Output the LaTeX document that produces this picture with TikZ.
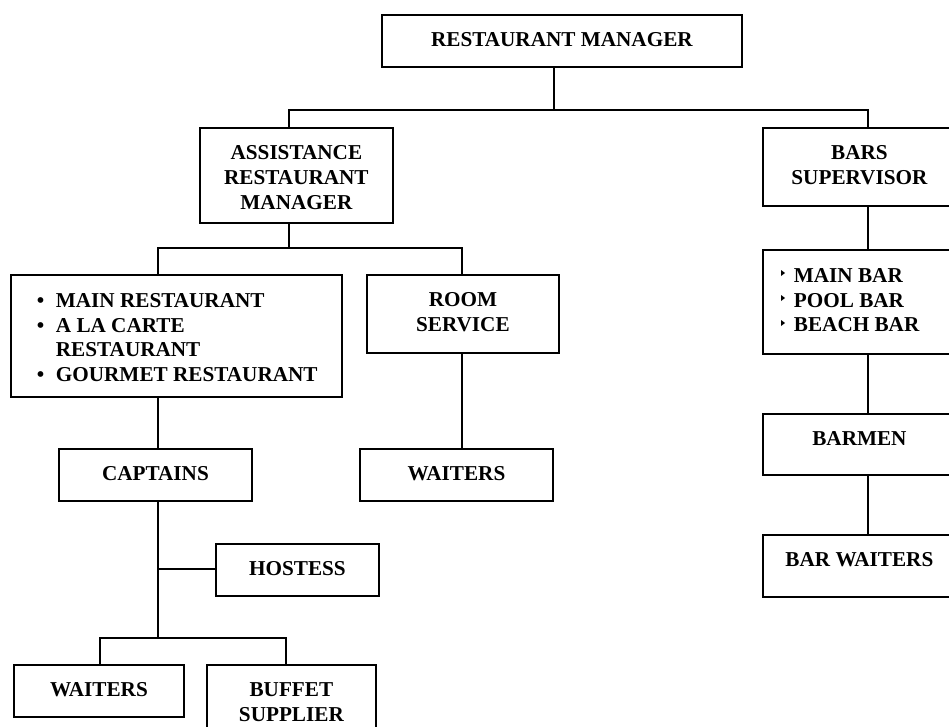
\documentclass[tikz,border=0pt]{standalone}
\usepackage{fontspec}
\setmainfont{Liberation Serif}
\usetikzlibrary{calc}
\newcommand{\bxt}[3]{\parbox[b][#2][t]{#1}{\centering\vspace*{18pt}#3\par}}
\newcommand{\bxl}[4]{\parbox[b][#2][t]{#1}{\raggedright\vspace*{#3}#4\par}}
\begin{document}
\begin{tikzpicture}[x=1pt,y=-1pt,
  orgbox/.style={draw, line width=1.8pt, inner sep=0pt, anchor=north west,
    font=\fontsize{21.2}{24.7}\selectfont\bfseries},
  link/.style={line width=1.8pt}]
\useasboundingbox (0,0) rectangle (949,726);
\clip (0,0) rectangle (949,726);
% boxes
\node[orgbox] (rm) at (381,14) {\bxt{360pt}{52pt}{RESTAURANT MANAGER}};
\node[orgbox] (arm) at (199,127) {\bxt{193pt}{95pt}{ASSISTANCE\\RESTAURANT\\MANAGER}};
\node[orgbox] (bs) at (762,127) {\bxt{193pt}{78pt}{BARS\\SUPERVISOR}};
\node[orgbox] (lst) at (10,274) {\bxl{331pt}{122pt}{18.5pt}{%
  \hspace*{26pt}\makebox[19pt][l]{\textbullet}MAIN RESTAURANT\\
  \hspace*{26pt}\makebox[19pt][l]{\textbullet}A LA CARTE\\
  \hspace*{45pt}RESTAURANT\\
  \hspace*{26pt}\makebox[19pt][l]{\textbullet}GOURMET RESTAURANT}};
\node[orgbox] (rs) at (366,274) {\bxt{192pt}{78pt}{ROOM\\SERVICE}};
\node[orgbox] (wtwo) at (359,448) {\bxt{193pt}{52pt}{WAITERS}};
\node[orgbox] (bl) at (762,249) {\bxl{193pt}{104pt}{18.5pt}{%
  \hspace*{31pt}MAIN BAR\\
  \hspace*{31pt}POOL BAR\\
  \hspace*{31pt}BEACH BAR}};
\node[orgbox] (bm) at (762,413) {\bxt{193pt}{61pt}{BARMEN}};
\node[orgbox] (bw) at (762,534) {\bxt{193pt}{62pt}{BAR WAITERS}};
\node[orgbox] (cap) at (58,448) {\bxt{193pt}{52pt}{CAPTAINS}};
\node[orgbox] (hos) at (215,543) {\bxt{163pt}{52pt}{HOSTESS}};
\node[orgbox] (wone) at (13,664) {\bxt{170pt}{52pt}{WAITERS}};
\node[orgbox] (buf) at (206,664) {\bxt{169pt}{80pt}{BUFFET\\SUPPLIER}};
% small triangle bullets of the bar list
\foreach \b in {281,306,331}
  \fill ($(bl.north west)+(19,\b-249-11)$) -- ++(4,3) -- ++(-4,3) -- cycle;
% junction points
\coordinate (j1) at (554,110);
\coordinate (j1l) at (289,110);
\coordinate (j1r) at (868,110);
\coordinate (j2) at (289,248);
\coordinate (j2l) at (158,248);
\coordinate (j2r) at (462,248);
\coordinate (j3) at (158,569);
\coordinate (j4) at (158,638);
\coordinate (j4l) at (100,638);
\coordinate (j4r) at (286,638);
% connectors
\draw[link] (rm.south -| j1) -- (j1);
\draw[link] (arm.north -| j1l) -- (j1l) -- (j1r) -- (bs.north -| j1r);
\draw[link] (arm.south -| j2) -- (j2);
\draw[link] (lst.north -| j2l) -- (j2l) -- (j2r) -- (rs.north -| j2r);
\draw[link] (lst.south -| j2l) -- (cap.north -| j2l);
\draw[link] (rs.south -| j2r) -- (wtwo.north -| j2r);
\draw[link] (cap.south -| j3) -- (j4);
\draw[link] (j3) -- (hos.west |- j3);
\draw[link] (wone.north -| j4l) -- (j4l) -- (j4r) -- (buf.north -| j4r);
\draw[link] (bs.south -| j1r) -- (bl.north -| j1r);
\draw[link] (bl.south -| j1r) -- (bm.north -| j1r);
\draw[link] (bm.south -| j1r) -- (bw.north -| j1r);
\end{tikzpicture}
\end{document}
